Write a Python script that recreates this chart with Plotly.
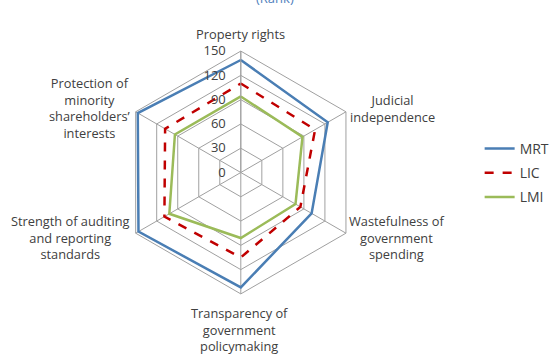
import plotly.graph_objects as go

categories = ["Property rights", "Judicial independence", "Wastefulness of government spending",
              "Transparency of government policymaking", "Strength of auditing and reporting standards",
              "Protection of minority shareholders’ interests"]
category_labels = ["Property rights", "Judicial<br>independence", "Wastefulness of<br>government<br>spending",
                   "Transparency of<br>government<br>policymaking", "Strength of auditing<br>and reporting<br>standards",
                   "Protection of<br>minority<br>shareholders’<br>interests"]
mrt = [139, 124, 101, 142, 146, 147]
lic = [110, 106, 85, 105, 109, 108]
lmi = [94, 88, 78, 81, 102, 94]
tick_vals = [0, 30, 60, 90, 120, 150]

series = [("MRT", mrt, "#4a7eb4", "solid"), ("LIC", lic, "#c00000", "dash"), ("LMI", lmi, "#9bbb59", "solid")]

fig = go.Figure()
for name, vals, color, dash in series:
    fig.add_trace(go.Scatterpolar(
        r=vals + [vals[0]], theta=categories + [categories[0]], name=name, mode="lines",
        line=dict(color=color, width=2.5, dash=dash), legendgroup=name))

font = "Open Sans, DejaVu Sans, sans-serif"
W, H = 555, 355
cx, cy, R = 243, 172.5, 122.5
# label centres (window pixels) for the category labels
label_pos = [(243, 34), (396, 108), (400, 237), (242, 329), (71, 237), (90, 108)]
annotations = []
for lab, (px, py) in zip(category_labels, label_pos):
    annotations.append(dict(text=lab, x=px / W, y=1 - py / H, xref="paper", yref="paper",
                            xanchor="center", yanchor="middle", showarrow=False, align="center",
                            font=dict(size=12.8, color="#404040")))
annotations.append(dict(text="(Rank)", x=278 / W, xanchor="center", y=1, yanchor="middle", yref="paper",
                        xref="paper", showarrow=False, yshift=2, font=dict(size=13, color="#4f81bd")))

fig.update_layout(
    width=W, height=H, margin=dict(l=0, r=0, t=0, b=0),
    paper_bgcolor="white", plot_bgcolor="white",
    font=dict(family=font, size=12, color="#404040"),
    polar=dict(
        domain=dict(x=[(cx - R) / W, (cx + R) / W], y=[1 - (cy + R) / H, 1 - (cy - R) / H]),
        gridshape="linear", bgcolor="white",
        radialaxis=dict(range=[0, 150], tickvals=tick_vals, angle=90, tickangle=90, side="counterclockwise",
                        showline=True, linecolor="#a0a0a0", gridcolor="#a0a0a0", linewidth=1,
                        ticks="outside", ticklen=10, tickcolor="rgba(0,0,0,0)",
                        tickfont=dict(size=13, color="#404040")),
        angularaxis=dict(direction="clockwise", rotation=90, showline=True, linecolor="#a0a0a0",
                         gridcolor="#a0a0a0", ticks="", showticklabels=False),
    ),
    legend=dict(x=484 / W, xanchor="left", y=1 - 173 / H, yanchor="middle",
                font=dict(size=14, color="#404040"), tracegroupgap=3, traceorder="grouped"),
    annotations=annotations,
)
fig.write_html("out.html", config={"displayModeBar": False},
               post_script="document.body.style.margin='0px';")
